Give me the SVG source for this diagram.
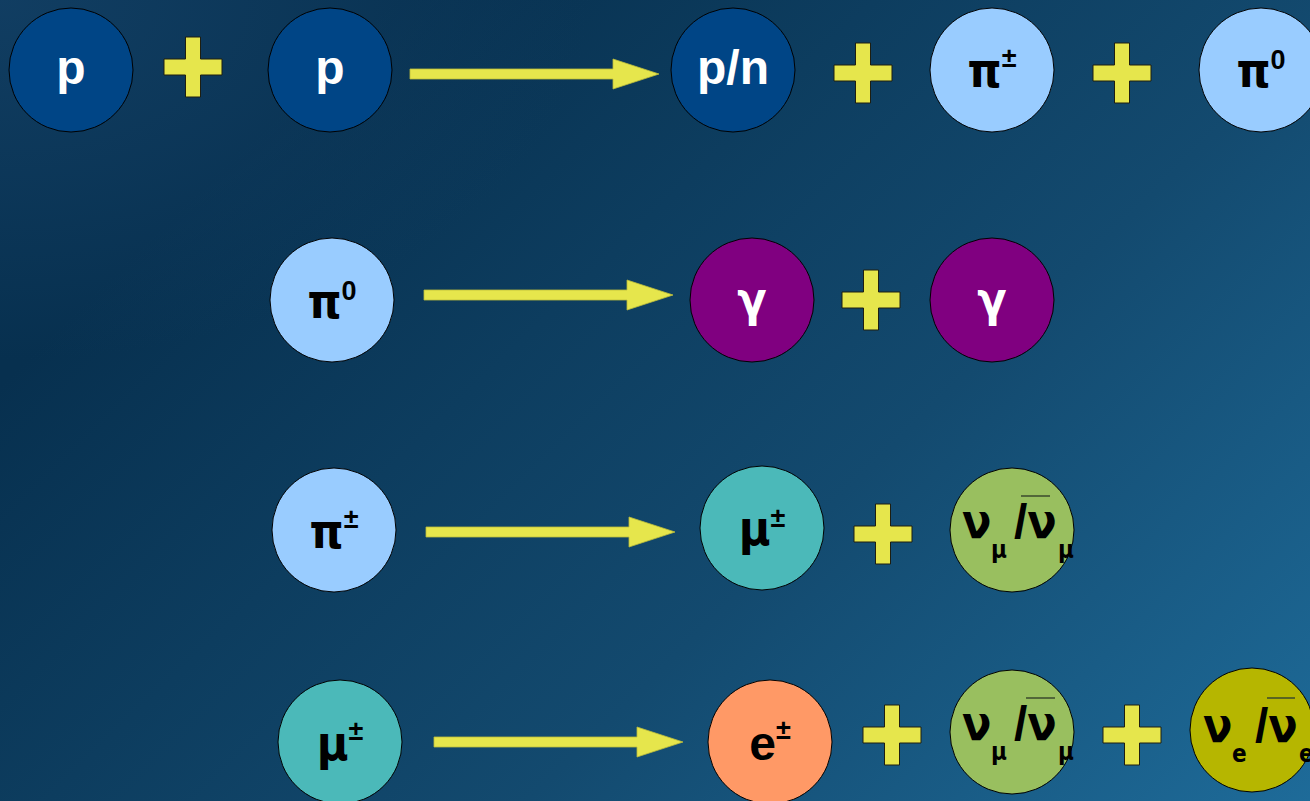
<svg xmlns="http://www.w3.org/2000/svg" width="1310" height="801" viewBox="0 0 1310 801">
<defs>
<linearGradient id="bg" x1="0.05" y1="0.4" x2="1" y2="1">
<stop offset="0" stop-color="#07304f"/>
<stop offset="0.55" stop-color="#134a6f"/>
<stop offset="1" stop-color="#1e6b99"/>
</linearGradient>
<radialGradient id="tl" cx="0" cy="0" r="0.45">
<stop offset="0" stop-color="#123f64" stop-opacity="0.9"/>
<stop offset="1" stop-color="#123f64" stop-opacity="0"/>
</radialGradient>
<path id="plus" d="M-7.5,-30 H7.5 V-8 H29 V8 H7.5 V30 H-7.5 V8 H-29 V-8 H-7.5 Z"/>
<path id="arrow" d="M0,-5 H203 V-15 L249,0 L203,15 V5 H0 Z"/>
</defs>
<style>
.c{stroke:#000;stroke-width:1}
.dk{fill:#004586}
.lb{fill:#99ccff}
.pu{fill:#800080}
.te{fill:#4bb9b9}
.gr{fill:#99bf5f}
.or{fill:#ff9966}
.ol{fill:#b6b600}
.plus{fill:#e6e64c;stroke:#1e1e10;stroke-width:1}
.arr{fill:#e6e64c;stroke:#bcbc3a;stroke-width:0.8}
text{font-family:"Liberation Sans",Arial,sans-serif;font-weight:bold;font-size:48px;text-anchor:middle}
.g{font-family:"DejaVu Sans Condensed","DejaVu Sans",sans-serif}
.l{font-family:"Liberation Sans",Arial,sans-serif}
.w{fill:#fff}
.b{fill:#000}
.sup{font-size:27px}
.nu{text-anchor:start}
.sub{font-size:24px}
.ov{stroke:#3b4a2c;stroke-width:1.5}
</style>
<rect x="0" y="0" width="1310" height="801" fill="url(#bg)"/>
<rect x="0" y="0" width="1310" height="801" fill="url(#tl)"/>

<g id="connectors">
<use href="#arrow" class="arr" x="410" y="74"/>
<use href="#arrow" class="arr" x="424" y="295"/>
<use href="#arrow" class="arr" x="426" y="532"/>
<use href="#arrow" class="arr" x="434" y="742"/>
<use href="#plus" class="plus" x="193" y="67"/>
<use href="#plus" class="plus" x="863" y="73"/>
<use href="#plus" class="plus" x="1122" y="73"/>
<use href="#plus" class="plus" x="871" y="300"/>
<use href="#plus" class="plus" x="883" y="534"/>
<use href="#plus" class="plus" x="892" y="735"/>
<use href="#plus" class="plus" x="1132" y="735"/>
</g>

<g id="p1"><circle class="c dk" cx="71" cy="70" r="62"/><text class="w" x="71" y="84">p</text></g>
<g id="p2"><circle class="c dk" cx="330" cy="70" r="62"/><text class="w" x="330" y="84">p</text></g>
<g id="pn"><circle class="c dk" cx="733" cy="70" r="62"/><text class="w" x="733" y="84">p/n</text></g>
<g id="pipm1"><circle class="c lb" cx="992" cy="70" r="62"/><text class="b" x="992" y="87"><tspan class="g">π</tspan><tspan class="sup" dy="-20">±</tspan></text></g>
<g id="pi01"><circle class="c lb" cx="1261" cy="70" r="62"/><text class="b" x="1261" y="87"><tspan class="g">π</tspan><tspan class="sup" dy="-18">0</tspan></text></g>

<g id="pi02"><circle class="c lb" cx="332" cy="300" r="62"/><text class="b" x="332" y="318"><tspan class="g">π</tspan><tspan class="sup" dy="-18">0</tspan></text></g>
<g id="gamma1"><circle class="c pu" cx="752" cy="300" r="62"/><text class="w g" x="752" y="316">γ</text></g>
<g id="gamma2"><circle class="c pu" cx="992" cy="300" r="62"/><text class="w g" x="992" y="316">γ</text></g>

<g id="pipm2"><circle class="c lb" cx="334" cy="530" r="62"/><text class="b" x="334" y="548"><tspan class="g">π</tspan><tspan class="sup" dy="-20">±</tspan></text></g>
<g id="mu1"><circle class="c te" cx="762" cy="528" r="62"/><text class="b" x="762" y="545"><tspan class="g">μ</tspan><tspan class="sup" dy="-18">±</tspan></text></g>
<g id="numu1"><circle class="c gr" cx="1012" cy="530" r="62"/>
<text class="b nu g" x="962" y="538">ν<tspan class="sub" x="991" y="558">μ</tspan><tspan class="l" x="1014" y="538">/</tspan><tspan>ν</tspan><tspan class="sub" x="1058" y="558">μ</tspan></text>
<line class="ov" x1="1021" y1="496" x2="1050" y2="496"/></g>

<g id="mu2"><circle class="c te" cx="340" cy="742" r="62"/><text class="b" x="340" y="760"><tspan class="g">μ</tspan><tspan class="sup" dy="-20">±</tspan></text></g>
<g id="e"><circle class="c or" cx="770" cy="742" r="62"/><text class="b" x="770" y="760">e<tspan class="sup" dy="-21">±</tspan></text></g>
<g id="numu2"><circle class="c gr" cx="1012" cy="732" r="62"/>
<text class="b nu g" x="962" y="740">ν<tspan class="sub" x="991" y="760">μ</tspan><tspan class="l" x="1014" y="740">/</tspan><tspan>ν</tspan><tspan class="sub" x="1058" y="760">μ</tspan></text>
<line class="ov" x1="1026" y1="698" x2="1055" y2="698"/></g>
<g id="nue"><circle class="c ol" cx="1252" cy="730" r="62"/>
<text class="b nu g" x="1203" y="742">ν<tspan class="sub" x="1232" y="762">e</tspan><tspan class="l" x="1255" y="742">/</tspan><tspan>ν</tspan><tspan class="sub" x="1299" y="762">e</tspan></text>
<line class="ov" x1="1267" y1="698" x2="1295" y2="698"/></g>
</svg>
